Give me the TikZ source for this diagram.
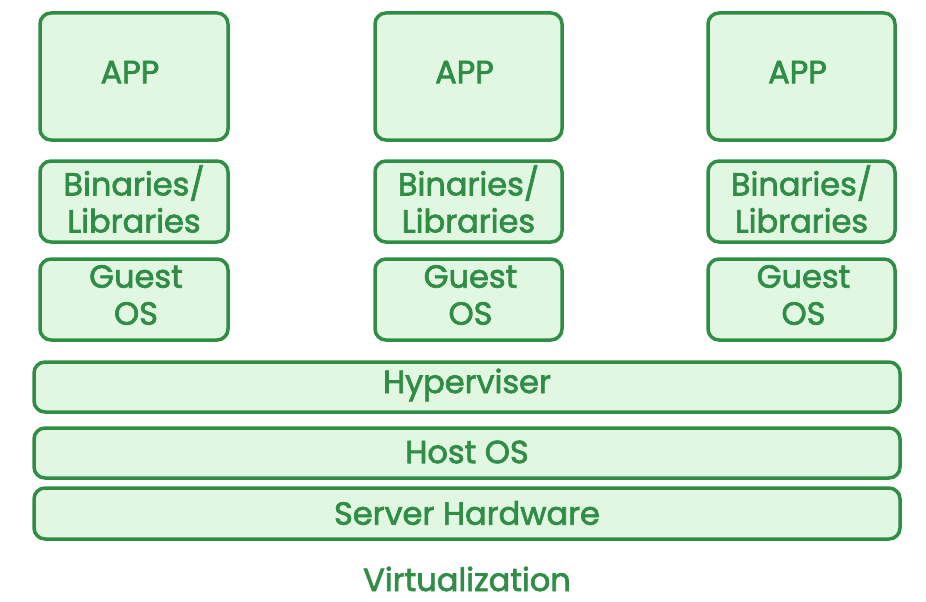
\documentclass[tikz,border=0pt]{standalone}
\usepackage{fontspec}
\setmainfont{Poppins}
\definecolor{gfgline}{HTML}{2F8D46}
\definecolor{gfgfill}{HTML}{E1F7E1}
\begin{document}
\begin{tikzpicture}[x=1pt,y=-1pt,
  layer/.style={draw=gfgline,fill=gfgfill,line width=3.5pt,rounded corners=11pt},
  lbl/.style={text=gfgline,font=\fontsize{32}{37}\selectfont\addfontfeature{FakeBold=2.2},align=center,inner sep=0pt}]
\useasboundingbox (0,0) rectangle (926,602);
% three virtual machine stacks
\foreach \n/\xa/\xb in {1/40/228,2/375/562,3/708/895}{
  \draw[layer] (\xa,13) rectangle (\xb,140);
  \node[lbl] (app\n) at ({(\xa+\xb)/2-4},72) {APP};
  \draw[layer] (\xa,161) rectangle (\xb,242);
  \node[lbl] (bin\n) at ({(\xa+\xb)/2},199) {Binaries/\\Libraries};
  \draw[layer] (\xa,259) rectangle (\xb,340);
  \node[lbl] (os\n) at ({(\xa+\xb)/2+2},295) {Guest\\OS};
}
% shared layers
\draw[layer] (34,362) rectangle (900,412);
\node[lbl] (hyp) at (467,385) {Hyperviser};
\draw[layer] (34,428) rectangle (900,478);
\node[lbl] (host) at (467,452) {Host OS};
\draw[layer] (34,488) rectangle (900,539);
\node[lbl] (hw) at (467,513) {Server Hardware};
\node[lbl] (title) at (467,579) {Virtualization};
\end{tikzpicture}
\end{document}
